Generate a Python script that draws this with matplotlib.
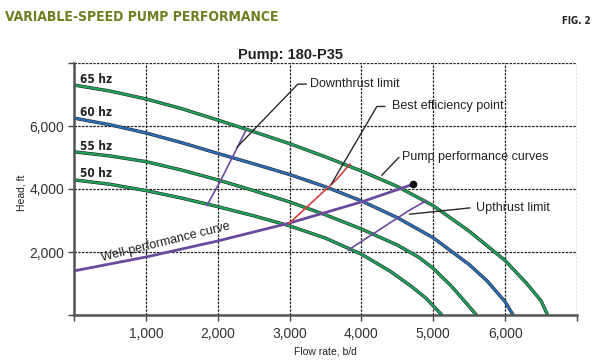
import matplotlib
matplotlib.use("Agg")
import matplotlib.pyplot as plt
import matplotlib.patheffects as pe

# ---- data ----
hz65_q = [0, 500, 1000, 1500, 2000, 2500, 3000, 3500, 4000, 4500, 5000, 5500, 6000, 6300, 6500, 6590]
hz65_h = [7300, 7110, 6860, 6550, 6190, 5820, 5440, 5020, 4570, 4080, 3470, 2660, 1730, 1000, 450, 0]

hz60_q = [0, 500, 1000, 1500, 2000, 2500, 3000, 3500, 4000, 4500, 5000, 5500, 5750, 6000, 6110]
hz60_h = [6250, 6040, 5780, 5470, 5130, 4800, 4460, 4070, 3620, 3090, 2450, 1600, 1080, 420, 0]

hz55_q = [0, 500, 1000, 1500, 2000, 2500, 3000, 3500, 4000, 4500, 4800, 5000, 5250, 5450, 5600]
hz55_h = [5180, 5050, 4870, 4600, 4290, 3950, 3590, 3180, 2730, 2220, 1830, 1480, 920, 400, 0]

hz50_q = [0, 500, 1000, 1500, 2000, 2500, 3000, 3500, 4000, 4400, 4700, 4900, 5120]
hz50_h = [4290, 4150, 3950, 3710, 3440, 3150, 2830, 2440, 1930, 1390, 900, 530, 0]

well_q = [0, 1000, 2000, 3000, 4000, 4720]
well_h = [1400, 1840, 2350, 2920, 3590, 4150]

down_q = [1850, 2030, 2390]
down_h = [3480, 4220, 5850]

bep_q = [2990, 3650, 3840]
bep_h = [2900, 4290, 4790]

up_q = [3815, 4670, 4905]
up_h = [2060, 3330, 3630]

speed_labels = ["65 hz", "60 hz", "55 hz", "50 hz"]
speed_label_h = [7490, 6430, 5350, 4490]

x_ticks = [0, 1000, 2000, 3000, 4000, 5000, 6000, 7000]
x_ticklabels = ["", "1,000", "2,000", "3,000", "4,000", "5,000", "6,000", ""]
y_ticks = [0, 2000, 4000, 6000, 8000]
y_ticklabels = ["", "2,000", "4,000", "6,000", ""]

GREEN = "#1fa35a"
BLUE = "#2d70b8"
PURPLE = "#6b4a9e"
RED = "#d8403a"
TXT = "#222222"
SANS = ["Liberation Sans", "DejaVu Sans"]
COND = dict(family=["DejaVu Sans"], fontstretch="condensed", fontweight="bold")

fig = plt.figure(figsize=(6, 3.6), dpi=100)
ax = fig.add_axes([74 / 600, 1 - 315 / 360, (577 - 74) / 600, (315 - 63) / 360])
ax.set_xlim(0, 7000)
ax.set_ylim(0, 8000)

outline = [pe.Stroke(linewidth=2.4, foreground="#222222"), pe.Normal()]
for q, h, c in [(hz65_q, hz65_h, GREEN), (hz60_q, hz60_h, BLUE),
                (hz55_q, hz55_h, GREEN), (hz50_q, hz50_h, GREEN)]:
    ax.plot(q, h, color=c, lw=1.6, path_effects=outline, zorder=4,
            solid_capstyle="butt", solid_joinstyle="round", clip_on=False)

ax.plot(well_q, well_h, color=PURPLE, lw=2.0, zorder=5)
ax.plot(well_q[-1:], well_h[-1:], marker="o", ms=4.5, color="#111111", zorder=6)
ax.plot(down_q, down_h, color=PURPLE, lw=1.2, zorder=5)
ax.plot(up_q, up_h, color=PURPLE, lw=1.2, zorder=5)
ax.plot(bep_q, bep_h, color=RED, lw=1.2, zorder=5)

# annotations with leader lines
lead = dict(color="#2a2a2a", lw=1.0, zorder=6)
ax.plot([2270, 3115, 3230], [5330, 7330, 7330], **lead)
ax.text(3280, 7330, "Downthrust limit", fontsize=9, family=SANS, color=TXT, va="center", ha="left")
ax.plot([3580, 4215, 4325], [4150, 6620, 6620], **lead)
ax.text(4420, 6620, "Best efficiency point", fontsize=9, family=SANS, color=TXT, va="center", ha="left")
ax.plot([4285, 4520], [4440, 5000], **lead)
ax.text(4570, 5015, "Pump performance curves", fontsize=9, family=SANS, color=TXT, va="center", ha="left")
ax.plot([4670, 5510], [3200, 3400], **lead)
ax.text(5590, 3400, "Upthrust limit", fontsize=9, family=SANS, color=TXT, va="center", ha="left")

ax.text(1280, 2300, "Well-performance curve", fontsize=9, family=SANS, color=TXT,
        rotation=14, rotation_mode="anchor", ha="center", va="center")

for lab, h in zip(speed_labels, speed_label_h):
    ax.text(85, h, lab, fontsize=8.5, color=TXT, va="center", ha="left", **COND)

ax.set_xticks(x_ticks)
ax.set_xticklabels(x_ticklabels)
ax.set_yticks(y_ticks)
ax.set_yticklabels(y_ticklabels)
for lab in ax.get_xticklabels() + ax.get_yticklabels():
    lab.set_family(SANS)
ax.tick_params(axis="both", length=4, width=1, color="#444444", labelsize=10,
               labelcolor="#333333", direction="out")
ax.tick_params(axis="x", pad=5)
ax.tick_params(axis="y", pad=3)

ax.grid(True, color="#222222", lw=0.9, linestyle=(0, (2, 1)))
ax.set_axisbelow(True)
for s in ["top", "right"]:
    ax.spines[s].set_visible(False)
for s in ["left", "bottom"]:
    ax.spines[s].set_color("#555555")
    ax.spines[s].set_linewidth(1.8)
    ax.spines[s].set_zorder(7)

fig.text(325 / 600, 1 - 352 / 360, "Flow rate, b/d", fontsize=7.5, family=SANS,
         color=TXT, ha="center", va="center")
fig.text(22 / 600, 1 - 193 / 360, "Head, ft", fontsize=7.5, family=SANS,
         color=TXT, ha="center", va="center", rotation=90)

fig.text(291 / 600, 1 - 55 / 360, "Pump: 180-P35", fontsize=10.5, family=SANS,
         fontweight="bold", color="#222222", ha="center", va="center")
fig.text(5 / 600, 1 - 17 / 360, "VARIABLE-SPEED PUMP PERFORMANCE", fontsize=10,
         color="#6e7f22", ha="left", va="center", **COND)
fig.text(591 / 600, 1 - 21 / 360, "FIG. 2", fontsize=7, color="#222222",
         ha="right", va="center", **COND)

fig.savefig("out.png", dpi=100, facecolor="white")
